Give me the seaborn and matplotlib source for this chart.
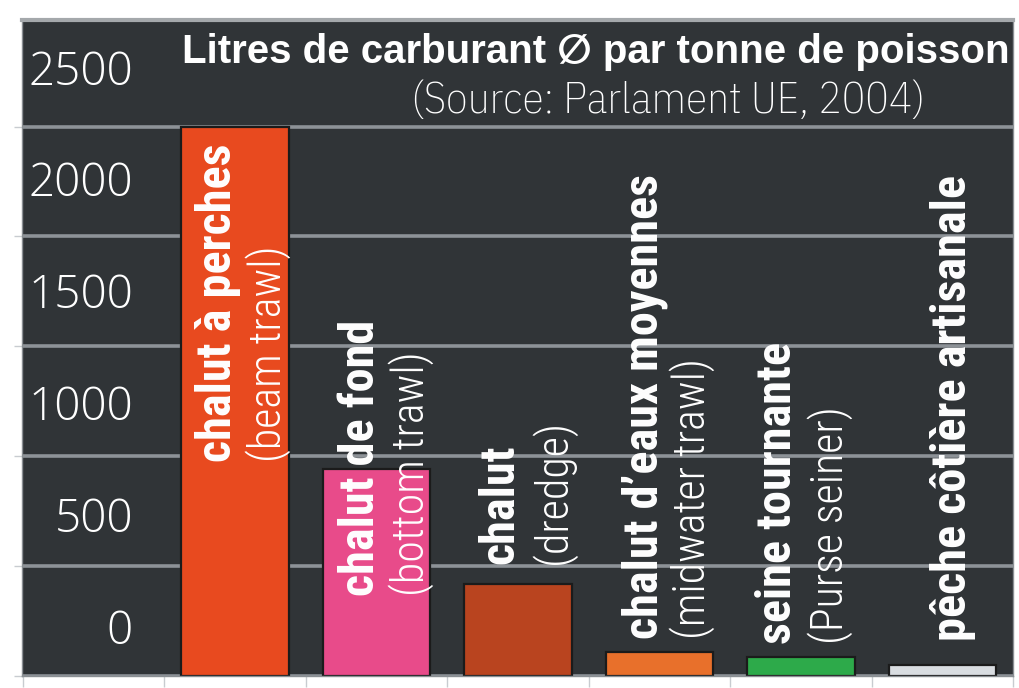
import math
import numpy as np
import pandas as pd
import matplotlib
matplotlib.use("Agg")
import matplotlib.pyplot as plt
import matplotlib.transforms as mtransforms
import matplotlib.font_manager as fm
from matplotlib.textpath import TextPath
import seaborn as sns

# ---------------- data ----------------
categories = ["chalut à perches", "chalut de fond", "chalut",
              "chalut d’eaux moyennes", "seine tournante", "pêche côtière artisanale"]
english = ["(beam trawl)", "(bottom trawl)", "(dredge)",
           "(midwater trawl)", "(Purse seiner)", ""]
litres = [2500, 940, 420, 110, 85, 50]
colors = ["#E84A1F", "#E84B8A", "#B9441F", "#E8702B", "#2DAA4A", "#D9DDE1"]
ytick_values = [0, 500, 1000, 1500, 2000, 2500]
ytick_labels = ["0", "500", "1000", "1500", "2000", "2500"]
title = "Litres de carburant ∅ par tonne de poisson"
subtitle = "(Source: Parlament UE, 2004)"

# ---------------- font choice: pick the face whose proportions match best ----------------
ttf = fm.fontManager.ttflist
names = {f.name for f in ttf}
base = ["Asap Condensed", "Asap SemiCondensed", "Asap", "Archivo Narrow", "Archivo",
        "Open Sans", "Noto Sans", "Lato", "Roboto", "Inter",
        "Liberation Sans Narrow", "Liberation Sans", "DejaVu Sans"]
extra = sorted(n for n in names if any(k in n for k in ("Condensed", "Narrow")))
cands = [n for n in dict.fromkeys(base + extra) if n in names]

def wnum(w):
    if isinstance(w, (int, float)):
        return w
    return fm.weight_dict.get(w, 400)

def has_weight(name, w):
    return any(abs(wnum(f.weight) - w) <= 100 and f.style == "normal"
               for f in ttf if f.name == name)

def ratio(name, w, s, ref):
    fp = fm.FontProperties(family=name, weight=w)
    L = TextPath((0, 0), s, size=100, prop=fp).get_extents().width
    H = TextPath((0, 0), ref, size=100, prop=fp).get_extents().height
    return L / H

def choose(w, s, ref, target, default):
    best, bs = default, 1e9
    for n in cands:
        if not has_weight(n, w):
            continue
        try:
            r = ratio(n, w, s, ref)
        except Exception:
            continue
        sc = abs(math.log(r / target))
        if sc < bs:
            best, bs = n, sc
    return best

F_BOLD = choose(700, "chalut à perches", "l", 318 / 36.7, "Open Sans")
F_LIGHT = choose(300, "(beam trawl)", "l", 225 / 35.0, "Open Sans")
F_TITLE = choose(700, "Litres de carburant O par tonne de poisson", "L", 827 / 28.5, "Open Sans")
F_SUB = choose(300, "(Source: Parlament UE, 2004)", "P", 515 / 30.5, "Open Sans")
FAM_T = ["Open Sans", "DejaVu Sans"]

sns.set_theme(style="dark")
plt.rcParams["font.family"] = [F_BOLD, "DejaVu Sans"]

DARK = "#303437"
fig = plt.figure(figsize=(10.2, 6.88), dpi=100, facecolor="white")
ax = fig.add_axes([22 / 1020, 1 - 676 / 688, 991 / 1020, 656 / 688])
ax.set_facecolor(DARK)

df = pd.DataFrame({"engin": categories, "litres": litres})
sns.barplot(data=df, x="engin", y="litres", hue="engin", palette=colors,
            width=0.76, saturation=1, legend=False, edgecolor="#1b1b1b",
            linewidth=1.6, ax=ax, zorder=2)

ax.set_xlim(-1.507, 5.472)
ax.set_ylim(0, 2985)
ax.set_yticks(ytick_values)
ax.set_xticks(np.arange(-1.5, 6.0, 1.0))
ax.set_xticklabels([])
ax.tick_params(axis="y", labelleft=False, left=True, length=6, color="#c8ccd0", width=1)
ax.tick_params(axis="x", bottom=True, length=8, color="#c8ccd0", width=1)
ax.set_xlabel("")
ax.set_ylabel("")
ax.yaxis.grid(True, color="#8d9297", linewidth=2.6)
ax.xaxis.grid(False)
ax.set_axisbelow(True)
for side, sp in ax.spines.items():
    sp.set_visible(True)
    sp.set_color("#8a8f93")
    sp.set_linewidth(1.0)
ax.spines["top"].set_linewidth(3)
ax.spines["top"].set_color("#a4a8ab")

# y tick labels inside the plot, sitting above their grid lines
ylab_tr = mtransforms.blended_transform_factory(ax.transAxes, ax.transData)
for v, lab in zip(ytick_values, ytick_labels):
    off = (44 + 2 * v / 500) / 100
    tr = ylab_tr + mtransforms.ScaledTranslation(0, off, fig.dpi_scale_trans)
    ax.text((133 - 22) / 991, v, lab, transform=tr, ha="right", va="center",
            color="white", fontsize=33, fontweight="light", family=FAM_T)

# bar labels (rotated)
label_start = [973, 364, 509, 168, 145, 159]
bold_dx = [-4, -3, -5, -2, -10, 24]
eng_dx = [46, 47, 48, 45, 42, 0]
bold_target = [318, 279, 120, 470, 303, 457]
eng_target = [225, 249, 140, 285, 225, 0]

bold_texts, eng_texts = [], []
for i, (cat, eng) in enumerate(zip(categories, english)):
    tr = ax.transData + mtransforms.ScaledTranslation(bold_dx[i] / 100, 0, fig.dpi_scale_trans)
    t = ax.text(i, label_start[i], cat, transform=tr, rotation=90, rotation_mode="anchor",
                ha="left", va="baseline", color="white", fontsize=30, fontweight="bold",
                family=[F_BOLD, "DejaVu Sans"], zorder=5)
    bold_texts.append(t)
    if eng:
        tr2 = ax.transData + mtransforms.ScaledTranslation(eng_dx[i] / 100, 0, fig.dpi_scale_trans)
        t2 = ax.text(i, label_start[i], eng, transform=tr2, rotation=90, rotation_mode="anchor",
                     ha="left", va="baseline", color="white", fontsize=26, fontweight="light",
                     family=[F_LIGHT, "DejaVu Sans"], zorder=5)
        eng_texts.append((t2, eng_target[i]))

tt = fig.text(596 / 1020, 1 - 63 / 688, title, ha="center", va="baseline", color="white",
              fontsize=32, fontweight="bold", family=[F_TITLE, "DejaVu Sans"])
st = fig.text(668 / 1020, 1 - 113 / 688, subtitle, ha="center", va="baseline", color="white",
              fontsize=30, fontweight="light", family=[F_SUB, "DejaVu Sans"])

renderer = fig.canvas.get_renderer()
def fit_group(items, vertical):
    for _ in range(2):
        meas = 0
        targ = 0
        for t, target in items:
            bb = t.get_window_extent(renderer)
            meas += bb.height if vertical else bb.width
            targ += target
        r = targ / meas
        for t, _t in items:
            t.set_fontsize(t.get_fontsize() * r)

fit_group(list(zip(bold_texts, bold_target)), True)
fit_group(eng_texts, True)
fit_group([(tt, 827)], False)
fit_group([(st, 515)], False)

fig.savefig("out.png", dpi=100, facecolor="white")
